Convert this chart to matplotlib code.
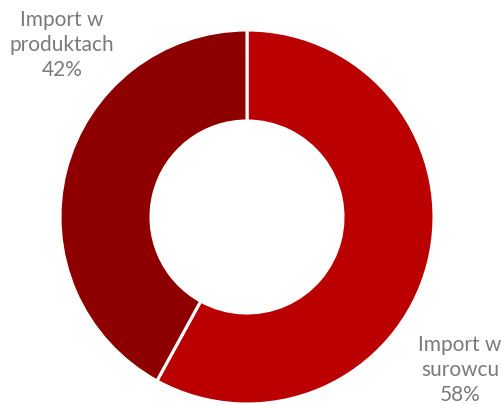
import matplotlib
matplotlib.use("Agg")
import matplotlib.pyplot as plt

# Import structure shares
categories = ["Import w\nsurowcu", "Import w\nproduktach"]
shares = [58, 42]
colors = ["#BA0000", "#8E0000"]

W, H = 503, 405
fig = plt.figure(figsize=(W / 100, H / 100), dpi=100)
ax = fig.add_axes([0, 0, 1, 1])

cx, cy = 247, H - 217
r_out, r_in = 187, 96

ax.pie(shares, colors=colors, startangle=90, counterclock=False,
       center=(cx, cy), radius=r_out, frame=True,
       wedgeprops=dict(width=r_out - r_in, edgecolor="white", linewidth=2.2))
ax.set_xlim(0, W)
ax.set_ylim(0, H)
ax.set_aspect("equal")
ax.axis("off")

label_pos = [(460, H - 370), (62, H - 45)]
for cat, val, (x, y) in zip(categories, shares, label_pos):
    ax.text(x, y, f"{cat}\n{val}%", ha="center", va="center",
            fontsize=15, family="Lato", fontweight="normal",
            color="#7A7A7A", linespacing=1.32)

fig.savefig("out.png", dpi=100)
